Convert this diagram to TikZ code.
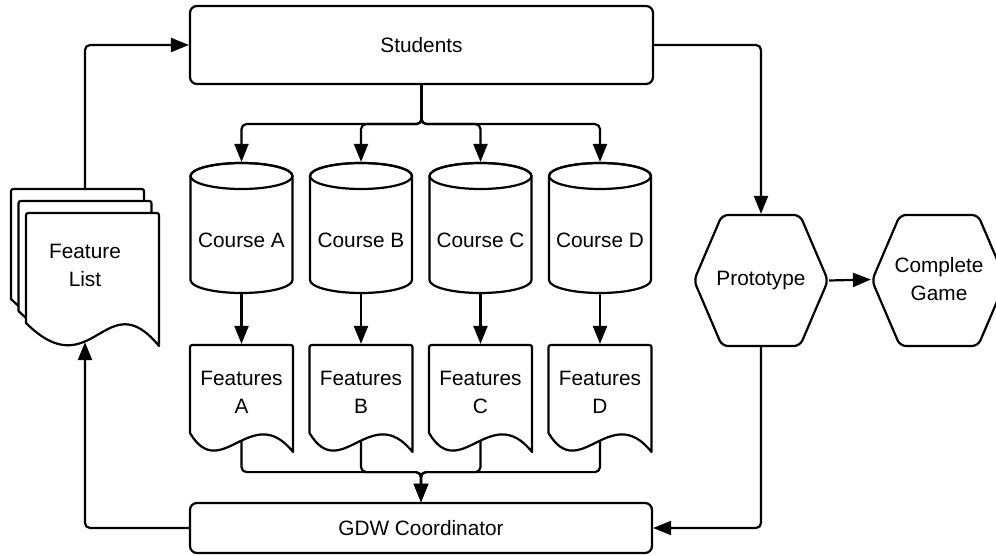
\documentclass[tikz,border=0pt]{standalone}
\usepackage{fontspec}
\setmainfont{Liberation Sans}
\usetikzlibrary{arrows.meta,calc}
\begin{document}
\begin{tikzpicture}[x=1pt,y=-1pt,
  line width=2.2pt, line join=round,
  txt/.style={font=\fontsize{20.8}{28}\selectfont, align=center, inner sep=0pt},
  box/.style={txt, draw, rounded corners=7pt, fill=white, line width=2.2pt},
  area/.style={txt, draw=none},
  conn/.style={line width=2.2pt, rounded corners=5pt, -{Triangle[length=18pt,width=14pt]}},
  shp/.style={draw, fill=white, line width=2.2pt},
]
\useasboundingbox (0,0) rectangle (996,556);
\clip (0,0) rectangle (996,556);

% Feature list stack
\foreach \dx/\dy in {-15/-24, -7.5/-12, 0/0} {
  \begin{scope}[shift={(\dx,\dy)}]
    \draw[shp] (26,323) -- (26,218) .. controls (26,213) .. (31,213) -- (154,213)
      .. controls (159,213) .. (159,218) -- (159,346)
      .. controls (105.8,281) and (92.5,389) .. (26,323) -- cycle;
  \end{scope}
}

% Cylinders and documents
\foreach \c in {241.5, 361, 480.5, 600} {
  \pgfmathsetmacro{\L}{\c-51}
  \pgfmathsetmacro{\R}{\c+51}
  \draw[shp] (\L,176) -- (\L,280) arc[start angle=180, end angle=360, x radius=51pt, y radius=13pt]
    -- (\R,176) arc[start angle=0, end angle=180, x radius=51pt, y radius=13pt] -- cycle;
  \draw[line width=2.2pt] (\c,176) ellipse [x radius=51pt, y radius=13pt];
  \pgfmathsetmacro{\DL}{\c-51.5}
  \pgfmathsetmacro{\DR}{\c+51.5}
  \pgfmathsetmacro{\PA}{\DL+30.9}
  \pgfmathsetmacro{\PB}{\DL+61.8}
  \pgfmathsetmacro{\DLr}{\DL+5}
  \pgfmathsetmacro{\DRr}{\DR-5}
  \draw[shp] (\DL,433) -- (\DL,350) .. controls (\DL,345) .. (\DLr,345) -- (\DRr,345)
    .. controls (\DR,345) .. (\DR,350) -- (\DR,452)
    .. controls (\PB,400) and (\PA,485) .. (\DL,433) -- cycle;
}

% Hexagons
\draw[shp, rounded corners=6pt] (694,280.5) -- (722,215) -- (800,215) -- (828,280.5) -- (800,346) -- (722,346) -- cycle;
\draw[shp, rounded corners=6pt] (872,280.5) -- (900,215) -- (978,215) -- (1006,280.5) -- (978,346) -- (900,346) -- cycle;

% Nodes
\node[box, minimum width=463pt, minimum height=78pt] (students) at (421.5,45) {Students};
\node[box, minimum width=462pt, minimum height=50pt] (gdw) at (421,528) {GDW Coordinator};
\node[area, minimum width=148pt, minimum height=152pt] (flist) at (85,265) {Feature\\List};
\node[area, minimum width=134pt, minimum height=131pt] (proto) at (761,280.5) {Prototype};
\node[area, minimum width=134pt, minimum height=131pt] (game) at (939,279.5) {Complete\\Game};
\foreach \c/\n/\l in {241.5/a/A, 361/b/B, 480.5/c/C, 600/d/D} {
  \node[area, minimum width=102pt, minimum height=130pt] (c\n) at (\c,228) {};
  \node[txt] (lbl\n) at (\c,240.5) {Course \l};
  \node[area, minimum width=103pt, minimum height=95pt] (f\n) at (\c,392.5) {Features\\\l};
}

% Connectors
\draw[conn] (flist.north) |- (students.west);
\draw[conn] (students.east) -| (proto.north);
\foreach \n in {a,b,c,d} {
  \draw[conn] (students.south) -- ++(0,39) -| (c\n.north);
  \draw[conn] (c\n.south) -- (c\n.south |- f\n.north);
  \draw[conn] (f\n.south) -- ++(0,31) -| (gdw.north);
}
\draw[conn] (proto.east) -- (game.west);
\draw[conn] (proto.south) |- (gdw.east);
\draw[conn] (gdw.west) -| (flist.south);
\end{tikzpicture}
\end{document}
